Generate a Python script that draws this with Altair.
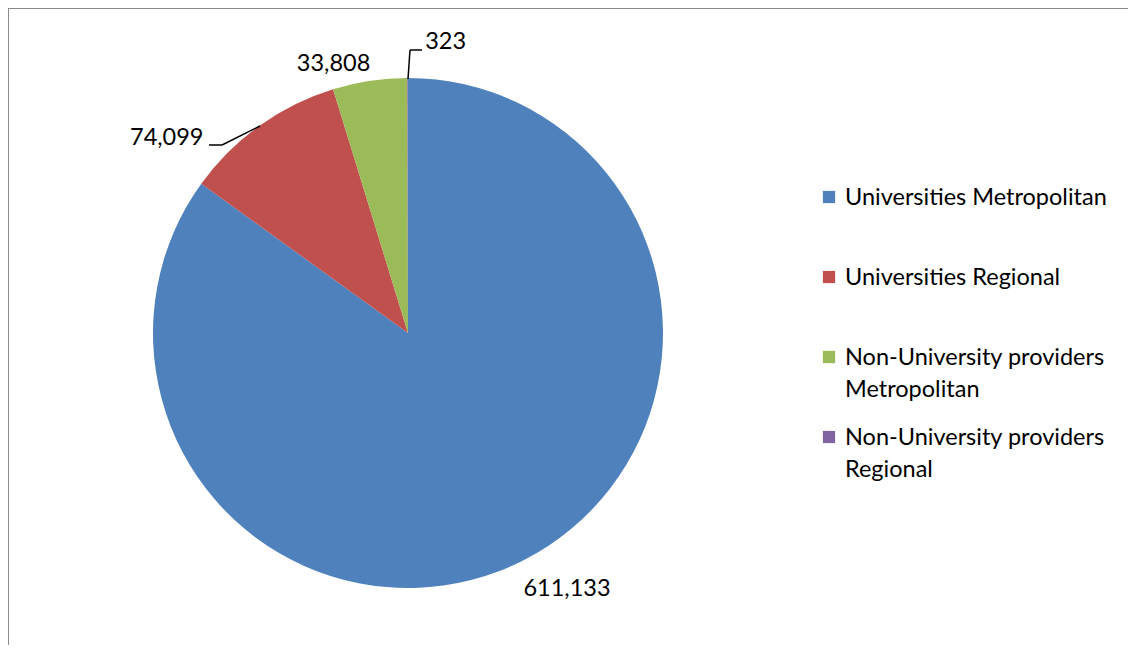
import altair as alt
import pandas as pd

categories = [
    "Universities Metropolitan",
    "Universities Regional",
    "Non-University providers Metropolitan",
    "Non-University providers Regional",
]
values = [611133, 74099, 33808, 323]
legend_labels = [
    "Universities Metropolitan",
    "Universities Regional",
    "Non-University providers\nMetropolitan",
    "Non-University providers\nRegional",
]
colors = ["#4F81BD", "#C0504D", "#9BBB59", "#8064A2"]

df = pd.DataFrame({
    "cat": categories,
    "value": values,
    "idx": list(range(len(categories))),
    "legend": legend_labels,
})

FONT = "Lato"
FS = 23.5
CX, CY, R = 400, 325, 255

color = alt.Color("cat:N", scale=alt.Scale(domain=categories, range=colors), legend=None)
theta = alt.Theta("value:Q", stack=True)
order = alt.Order("idx:Q")

base = alt.Chart(df)

pie = base.mark_arc(outerRadius=R).encode(
    theta=theta, color=color, order=order,
    x=alt.value(CX), y=alt.value(CY),
)

def label_layer(cat, r, dx, dy):
    return base.mark_text(
        radius=r, dx=dx, dy=dy, font=FONT, fontSize=FS, color="#000000",
        align="center", baseline="middle",
    ).encode(
        theta=theta, order=order,
        x=alt.value(CX), y=alt.value(CY),
        text=alt.condition(
            alt.datum.cat == cat,
            alt.Text("value:Q", format=","),
            alt.value(""),
        ),
    )

labels = [
    label_layer(categories[0], 290, 27, -2),
    label_layer(categories[1], 270, -84, 24),
    label_layer(categories[2], 270, -34, -2),
    label_layer(categories[3], 270, 38, -21),
]

def rule(x1, y1, x2, y2, col="#000000", w=1.5):
    return alt.Chart(df.head(1)).mark_rule(color=col, strokeWidth=w).encode(
        x=alt.value(x1), y=alt.value(y1), x2=alt.value(x2), y2=alt.value(y2)
    )

leaders = [
    rule(201, 137, 214, 137),
    rule(214, 137, 252, 118),
    rule(400, 71, 402, 42),
    rule(402, 42, 414, 42),
]

frame = [
    rule(0, 0, 1140, 0, "#8A8A8A", 2),
    rule(0, 0, 0, 660, "#8A8A8A", 2),
]

ypos = alt.Y("cat:N", scale=alt.Scale(type="point", domain=categories, range=[189, 429], padding=0), axis=None)

leg_sq = base.mark_square(size=150, opacity=1).encode(
    x=alt.value(821), y=ypos, color=color,
)
leg_txt = base.transform_calculate(
    lines="split(datum.legend, '\\n')"
).mark_text(
    align="left", baseline="alphabetic", dy=8, font=FONT, fontSize=FS,
    lineHeight=32, color="#000000",
).encode(
    x=alt.value(837), y=ypos, text="lines:N",
)

chart = alt.layer(
    pie, *labels, *leaders, *frame, leg_sq, leg_txt
).properties(
    width=1120, height=637, padding=0,
    autosize=alt.AutoSizeParams(type="none"),
).configure_view(stroke=None)

chart.save("out.html", embed_options={"renderer": "svg", "actions": False})
